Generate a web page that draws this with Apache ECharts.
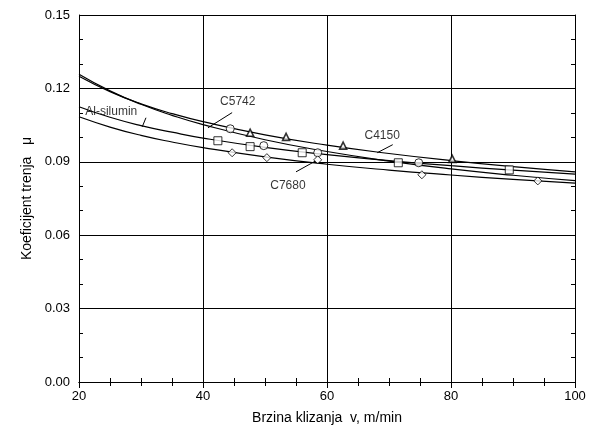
<!DOCTYPE html>
<html>
<head>
<meta charset="utf-8">
<script src="https://cdn.jsdelivr.net/npm/echarts@6/dist/echarts.min.js"></script>
<style>
  html, body { margin: 0; padding: 0; background: #fff; }
  #chart { width: 594px; height: 432px; }
</style>
</head>
<body>
<div id="chart"></div>
<script>
// brzina klizanja (m/min) za krive
const curveX = [20, 25, 30, 35, 40, 50, 60, 70, 80, 90, 100];
// krive (ocitano sa slike)
const c4150Curve = [0.1250, 0.1187, 0.1137, 0.1097, 0.1064, 0.1010, 0.0968, 0.0934, 0.0905, 0.0880, 0.0859];
const c5742Curve = [0.1258, 0.1190, 0.1135, 0.1090, 0.1052, 0.0990, 0.0942, 0.0903, 0.0871, 0.0845, 0.0823];
const alCurve = [0.1125, 0.1082, 0.1048, 0.1021, 0.0997, 0.0959, 0.0929, 0.0905, 0.0884, 0.0866, 0.0850];
const c7680Curve = [0.1084, 0.1042, 0.1008, 0.0981, 0.0958, 0.0920, 0.0890, 0.0866, 0.0846, 0.0828, 0.0813];
// mjerene tacke
const c4150Pts = [[47.6, 0.1019], [53.4, 0.1002], [62.6, 0.0966], [80.2, 0.0912]];
const c5742Pts = [[44.4, 0.1035], [49.8, 0.0966], [58.5, 0.0937], [74.8, 0.0896]];
const alPts = [[42.4, 0.0986], [47.6, 0.0962], [56.0, 0.0937], [71.5, 0.0896], [89.4, 0.0867]];
const c7680Pts = [[44.7, 0.0937], [50.3, 0.0917], [58.5, 0.0908], [75.3, 0.0847], [94.0, 0.0822]];
// oznake krivih: tekst, pozicija teksta, linija
const labelNames = ['C5742', 'Al-silumin', 'C4150', 'C7680'];
const labelPos = [[45.6, 0.1146], [25.2, 0.1105], [68.9, 0.1007], [53.7, 0.0802]];
const leaders = [
  [[44.7, 0.1101], [40.8, 0.1039]],
  [[30.8, 0.1080], [30.2, 0.1043]],
  [[70.6, 0.0970], [68.1, 0.0937]],
  [[55.0, 0.0859], [58.2, 0.0904]]
];

const FONT = 'Liberation Sans, Arial, sans-serif';
const chart = echarts.init(document.getElementById('chart'));

const zip = (xs, ys) => xs.map((x, i) => [x, ys[i]]);

function curve(data) {
  return {
    type: 'line',
    data: zip(curveX, data),
    smooth: true,
    showSymbol: false,
    symbol: 'none',
    silent: true,
    lineStyle: { color: '#000', width: 1.2 },
    z: 3
  };
}

function points(data, symbol, size, bw) {
  return {
    type: 'scatter',
    data: data,
    symbol: symbol,
    symbolSize: size,
    silent: true,
    itemStyle: { color: '#fff', borderColor: '#000', borderWidth: bw || 1 },
    z: 5
  };
}

const series = [
  curve(c4150Curve),
  curve(c5742Curve),
  curve(alCurve),
  curve(c7680Curve),
  points(c4150Pts, 'triangle', 7, 1.6),
  points(c5742Pts, 'circle', 8),
  points(alPts, 'rect', 8),
  points(c7680Pts, 'diamond', 8)
];

leaders.forEach(l => {
  series.push({
    type: 'line',
    data: l,
    symbol: 'none',
    silent: true,
    lineStyle: { color: '#000', width: 1 },
    z: 4
  });
});

series.push({
  type: 'scatter',
  data: labelPos.map((p, i) => ({ value: p, name: labelNames[i] })),
  symbolSize: 0,
  silent: true,
  label: {
    show: true,
    position: 'inside',
    formatter: p => p.name,
    color: '#000',
    fontSize: 12,
    fontFamily: FONT
  },
  z: 6
});

const tickIn = { show: true, inside: true, length: 6, lineStyle: { color: '#000' } };

chart.setOption({
  animation: false,
  backgroundColor: '#fff',
  grid: { left: 79, right: 19, top: 15, bottom: 50 },
  xAxis: [{
    type: 'value',
    min: 20, max: 100, interval: 20,
    name: 'Brzina klizanja  v, m/min',
    nameLocation: 'middle',
    nameGap: 29,
    nameTextStyle: { color: '#000', fontSize: 14, fontFamily: FONT },
    axisLine: { onZero: false, lineStyle: { color: '#000', width: 1 } },
    axisTick: tickIn,
    minorTick: { show: true, splitNumber: 4, length: 4, lineStyle: { color: '#000' } },
    axisLabel: { color: '#000', fontSize: 13, fontFamily: FONT, margin: 8 },
    splitLine: { show: true, lineStyle: { color: '#000', width: 1 } }
  }, {
    type: 'value', position: 'top',
    min: 20, max: 100, interval: 20,
    axisLine: { lineStyle: { color: '#000', width: 1 } },
    axisTick: tickIn,
    minorTick: { show: true, splitNumber: 4, length: 4, lineStyle: { color: '#000' } },
    axisLabel: { show: false },
    splitLine: { show: false }
  }],
  yAxis: [{
    type: 'value',
    min: 0, max: 0.15, interval: 0.03,
    name: 'Koeficijent trenja   μ',
    nameLocation: 'middle',
    nameGap: 45,
    nameTextStyle: { color: '#000', fontSize: 14, fontFamily: FONT },
    axisLine: { show: true, onZero: false, lineStyle: { color: '#000', width: 1 } },
    axisTick: tickIn,
    minorTick: { show: true, splitNumber: 3, length: 4, lineStyle: { color: '#000' } },
    axisLabel: { color: '#000', fontSize: 13, fontFamily: FONT, margin: 9, formatter: v => v.toFixed(2) },
    splitLine: { show: true, lineStyle: { color: '#000', width: 1 } }
  }, {
    type: 'value', position: 'right',
    min: 0, max: 0.15, interval: 0.03,
    axisLine: { show: true, lineStyle: { color: '#000', width: 1 } },
    axisTick: tickIn,
    minorTick: { show: true, splitNumber: 3, length: 4, lineStyle: { color: '#000' } },
    axisLabel: { show: false },
    splitLine: { show: false }
  }],
  series: series
});
</script>
</body>
</html>
